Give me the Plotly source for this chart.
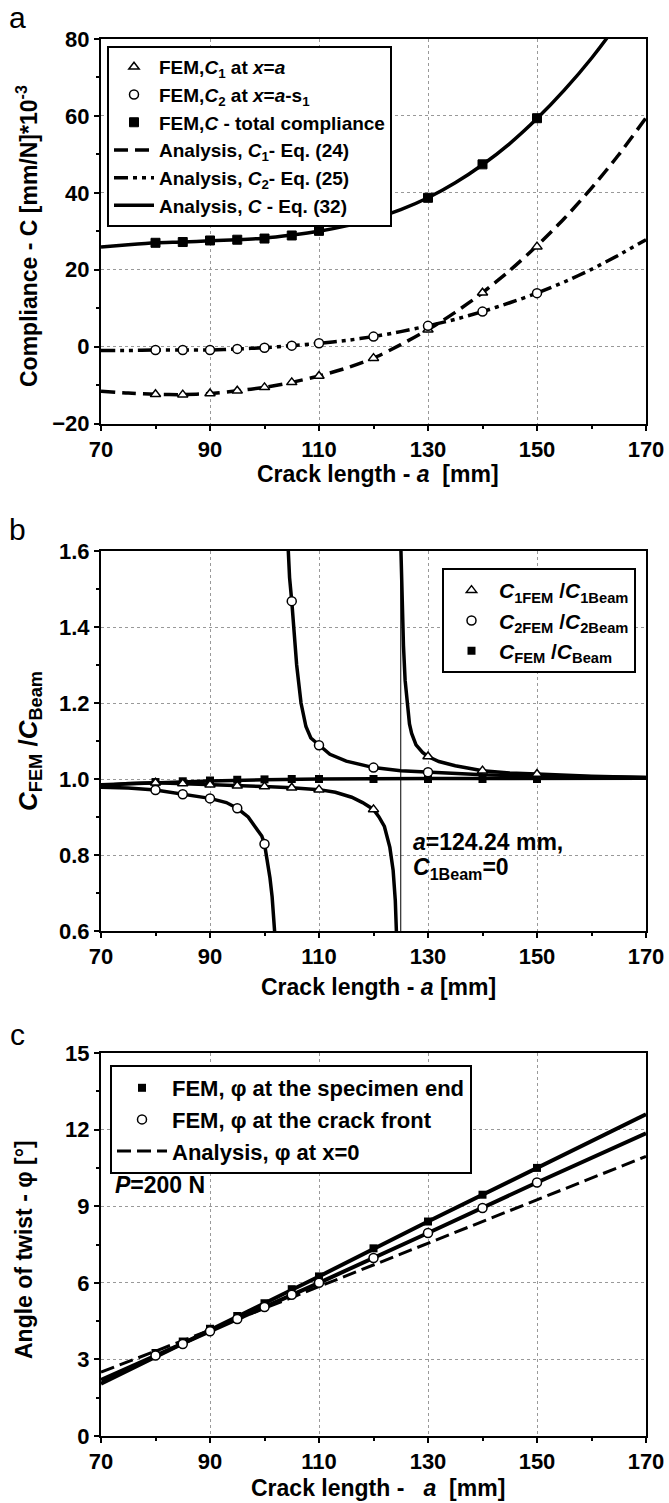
import plotly.graph_objects as go

W, H = 669, 1503
F = "Liberation Sans, Arial, sans-serif"
FR = "Liberation Sans, Arial, sans-serif"

# ---------------- Panel a data ----------------
a_x_fem = [80, 85, 90, 95, 100, 105, 110, 120, 130, 140, 150]
a_c1_fem = [-12.4, -12.5, -12.2, -11.5, -10.6, -9.3, -7.65, -3.0, 4.4, 14.0, 26.0]
a_c2_fem = [-0.9, -0.9, -0.9, -0.6, -0.3, 0.25, 0.85, 2.6, 5.4, 9.1, 13.9]
a_c_fem = [27.0, 27.2, 27.6, 27.8, 28.1, 28.9, 30.1, 33.2, 38.7, 47.4, 59.4]

a_x_line = [70, 75, 80, 85, 90, 95, 100, 105, 110, 115, 120, 125, 130, 135, 140, 145, 150, 155, 160, 165, 170]
a_c1_line = [-11.6, -12.1, -12.4, -12.5, -12.2, -11.5, -10.6, -9.3, -7.65, -5.6, -3.0, 0.5, 4.4, 8.9, 14.0, 19.8, 26.2, 33.3, 41.2, 49.9, 59.5]
a_c2_line = [-1.0, -1.0, -0.9, -0.9, -0.9, -0.6, -0.3, 0.25, 0.85, 1.6, 2.6, 3.9, 5.4, 7.1, 9.1, 11.4, 13.9, 16.8, 20.1, 23.8, 27.8]
a_c_line = [25.9, 26.5, 27.0, 27.2, 27.5, 27.8, 28.2, 29.0, 30.0, 31.4, 33.2, 35.6, 38.7, 42.6, 47.3, 52.8, 59.3, 66.7, 75.0, 84.5, 95.0]

# ---------------- Panel b data ----------------
b_x_fem = [80, 85, 90, 95, 100, 105, 110, 120, 130, 140, 150]
b_r1_fem = [0.990, 0.988, 0.985, 0.982, 0.980, 0.977, 0.972, 0.920, 1.059, 1.022, 1.013]
b_r_fem = [0.992, 0.994, 0.996, 0.998, 0.999, 1.0, 1.0, 1.0, 1.0, 1.0, 1.0]
b_x2_fem = [80, 85, 90, 95, 100, 105, 110, 120, 130]
b_r2_fem = [0.971, 0.960, 0.949, 0.923, 0.829, 1.468, 1.089, 1.030, 1.018]

b_r1_left_x = [70, 75, 80, 85, 90, 95, 100, 105, 110, 113, 116, 118, 120, 121, 122, 123, 123.6, 124.0, 124.25]
b_r1_left_y = [0.982, 0.988, 0.990, 0.988, 0.985, 0.982, 0.980, 0.977, 0.972, 0.965, 0.952, 0.938, 0.920, 0.900, 0.875, 0.820, 0.760, 0.680, 0.580]
b_r1_right_x = [125.0, 125.2, 125.5, 125.8, 126.2, 126.6, 127.0, 127.8, 129, 130, 132, 135, 140, 145, 150, 160, 170]
b_r1_right_y = [1.62, 1.48, 1.35, 1.26, 1.19, 1.145, 1.12, 1.09, 1.07, 1.059, 1.046, 1.035, 1.022, 1.016, 1.013, 1.007, 1.004]
b_r2_left_x = [70, 75, 80, 85, 90, 93, 95, 97, 98.5, 99.5, 100, 100.5, 101, 101.4, 101.7, 101.9]
b_r2_left_y = [0.978, 0.976, 0.971, 0.960, 0.949, 0.938, 0.923, 0.900, 0.872, 0.850, 0.829, 0.790, 0.740, 0.690, 0.640, 0.590]
b_r2_right_x = [104.3, 104.6, 105, 105.3, 105.9, 106.7, 107.6, 108.5, 110, 112, 115, 120, 125, 130, 140, 150, 160, 170]
b_r2_right_y = [1.62, 1.53, 1.468, 1.40, 1.30, 1.20, 1.138, 1.108, 1.089, 1.065, 1.047, 1.030, 1.022, 1.018, 1.011, 1.008, 1.005, 1.004]
b_r_line_x = [70, 80, 90, 100, 110, 130, 150, 170]
b_r_line_y = [0.985, 0.991, 0.995, 0.998, 1.0, 1.001, 1.001, 1.002]
b_asym_x = [125.0, 125.0]
b_asym_y = [0.6, 1.6]

# ---------------- Panel c data ----------------
c_x_fem = [80, 85, 90, 95, 100, 105, 110, 120, 130, 140, 150]
c_end_fem = [3.25, 3.7, 4.2, 4.7, 5.2, 5.75, 6.25, 7.35, 8.4, 9.45, 10.5]
c_front_fem = [3.15, 3.6, 4.1, 4.58, 5.05, 5.53, 6.0, 6.97, 7.95, 8.93, 9.93]
c_x_line = [70, 90, 110, 130, 150, 170]
c_end_line = [2.05, 4.15, 6.25, 8.4, 10.5, 12.6]
c_front_line = [2.2, 4.1, 6.0, 7.95, 9.93, 11.85]
c_ana_line = [2.5, 4.15, 5.85, 7.55, 9.25, 10.95]


def fx(px):
    return px / W


def fy(py):
    return 1 - py / H


fig = go.Figure()

# ---- panel a traces ----
fig.add_trace(go.Scatter(x=a_x_line, y=a_c1_line, mode="lines", line=dict(color="black", width=3.5, dash="14px,7px", shape="spline", smoothing=0.6),
                         name="Analysis, <i>C</i><sub>1</sub>- Eq. (24)", xaxis="x", yaxis="y", legend="legend", legendrank=4))
fig.add_trace(go.Scatter(x=a_x_line, y=a_c2_line, mode="lines", line=dict(color="black", width=3.5, dash="14px,5px,4px,5px,4px,5px", shape="spline", smoothing=0.6),
                         name="Analysis, <i>C</i><sub>2</sub>- Eq. (25)", xaxis="x", yaxis="y", legend="legend", legendrank=5))
fig.add_trace(go.Scatter(x=a_x_line, y=a_c_line, mode="lines", line=dict(color="black", width=3.5, shape="spline", smoothing=0.6),
                         name="Analysis, <i>C</i> - Eq. (32)", xaxis="x", yaxis="y", legend="legend", legendrank=6))
fig.add_trace(go.Scatter(x=a_x_fem, y=a_c1_fem, mode="markers", marker=dict(symbol="triangle-up", size=9, color="white", line=dict(color="black", width=1.5)),
                         name="FEM,<i>C</i><sub>1</sub> at <i>x</i>=<i>a</i>", xaxis="x", yaxis="y", legend="legend", legendrank=1))
fig.add_trace(go.Scatter(x=a_x_fem, y=a_c2_fem, mode="markers", marker=dict(symbol="circle", size=9, color="white", line=dict(color="black", width=1.5)),
                         name="FEM,<i>C</i><sub>2</sub> at <i>x</i>=<i>a</i>-s<sub>1</sub>", xaxis="x", yaxis="y", legend="legend", legendrank=2))
fig.add_trace(go.Scatter(x=a_x_fem, y=a_c_fem, mode="markers", marker=dict(symbol="square", size=9, color="black", line=dict(color="black", width=1)),
                         name="FEM,<i>C</i> - total compliance", xaxis="x", yaxis="y", legend="legend", legendrank=3))

# ---- panel b traces ----
lb = dict(color="black", width=3.5)
fig.add_trace(go.Scatter(x=b_asym_x, y=b_asym_y, mode="lines", line=dict(color="black", width=1), showlegend=False, xaxis="x2", yaxis="y2"))
for xs, ys in [(b_r_line_x, b_r_line_y), (b_r1_left_x, b_r1_left_y), (b_r1_right_x, b_r1_right_y),
               (b_r2_left_x, b_r2_left_y), (b_r2_right_x, b_r2_right_y)]:
    fig.add_trace(go.Scatter(x=xs, y=ys, mode="lines", line=lb, showlegend=False, xaxis="x2", yaxis="y2"))
fig.add_trace(go.Scatter(x=b_x_fem, y=b_r_fem, mode="markers", marker=dict(symbol="square", size=8, color="black"),
                         name="<i>C</i><sub>FEM</sub> /<i>C</i><sub>Beam</sub>", xaxis="x2", yaxis="y2", legend="legend2", legendrank=3))
fig.add_trace(go.Scatter(x=b_x_fem, y=b_r1_fem, mode="markers", marker=dict(symbol="triangle-up", size=9, color="white", line=dict(color="black", width=1.5)),
                         name="<i>C</i><sub>1FEM</sub> /<i>C</i><sub>1Beam</sub>", xaxis="x2", yaxis="y2", legend="legend2", legendrank=1))
fig.add_trace(go.Scatter(x=b_x2_fem, y=b_r2_fem, mode="markers", marker=dict(symbol="circle", size=9, color="white", line=dict(color="black", width=1.5)),
                         name="<i>C</i><sub>2FEM</sub> /<i>C</i><sub>2Beam</sub>", xaxis="x2", yaxis="y2", legend="legend2", legendrank=2))

# ---- panel c traces ----
fig.add_trace(go.Scatter(x=c_x_line, y=c_ana_line, mode="lines", line=dict(color="black", width=3, dash="14px,6px"),
                         name="Analysis, φ at x=0", xaxis="x3", yaxis="y3", legend="legend3", legendrank=3))
fig.add_trace(go.Scatter(x=c_x_line, y=c_end_line, mode="lines", line=dict(color="black", width=4), showlegend=False, xaxis="x3", yaxis="y3"))
fig.add_trace(go.Scatter(x=c_x_line, y=c_front_line, mode="lines", line=dict(color="black", width=4), showlegend=False, xaxis="x3", yaxis="y3"))
fig.add_trace(go.Scatter(x=c_x_fem, y=c_end_fem, mode="markers", marker=dict(symbol="square", size=8, color="black"),
                         name="FEM, φ at the specimen end", xaxis="x3", yaxis="y3", legend="legend3", legendrank=1))
fig.add_trace(go.Scatter(x=c_x_fem, y=c_front_fem, mode="markers", marker=dict(symbol="circle", size=9, color="white", line=dict(color="black", width=1.5)),
                         name="FEM, φ at the crack front", xaxis="x3", yaxis="y3", legend="legend3", legendrank=2))

tickfont = dict(family=F, size=22, color="black", weight="bold")


def xax(top, bottom, anchor):
    return dict(domain=[fx(101), fx(646)], anchor=anchor, range=[70, 170], tick0=70, dtick=20,
                ticks="outside", ticklen=5, tickwidth=1.5, tickcolor="black", tickfont=tickfont,
                showline=True, linecolor="black", linewidth=2, mirror=True, automargin=False,
                showgrid=True, gridcolor="#999999", griddash="dot", gridwidth=1, zeroline=False,
                minor=dict(dtick=10, tick0=70, ticks="outside", ticklen=3, tickcolor="black", showgrid=False))


def yax(top, bottom, anchor, rng, dtick, mdtick, fmt=None):
    d = dict(domain=[fy(bottom), fy(top)], anchor=anchor, range=rng, tick0=rng[0], dtick=dtick,
             ticks="outside", ticklen=5, tickwidth=1.5, tickcolor="black", tickfont=tickfont,
             showline=True, linecolor="black", linewidth=2, mirror=True, automargin=False,
             showgrid=True, gridcolor="#999999", griddash="dot", gridwidth=1, zeroline=False,
             minor=dict(dtick=mdtick, tick0=rng[0], ticks="outside", ticklen=3, tickcolor="black", showgrid=False))
    if fmt:
        d["tickformat"] = fmt
    return d


A = (39, 423.5)
B = (551, 931)
C = (1053, 1436)

legfont = dict(family=F, color="black", weight="bold")

fig.update_layout(
    template="none",
    width=W, height=H, margin=dict(l=0, r=0, t=0, b=0, pad=0, autoexpand=False),
    paper_bgcolor="white", plot_bgcolor="white",
    xaxis=xax(*A, "y"), yaxis=yax(*A, "x", [-20, 80], 20, 10),
    xaxis2=xax(*B, "y2"), yaxis2=yax(*B, "x2", [0.6, 1.6], 0.2, 0.1, ".1f"),
    xaxis3=xax(*C, "y3"), yaxis3=yax(*C, "x3", [0, 15], 3, 1.5),
    legend=dict(x=fx(107), y=fy(46), xanchor="left", yanchor="top", bordercolor="black", borderwidth=2,
                bgcolor="white", font=dict(size=19, **legfont), tracegroupgap=0, itemsizing="trace", itemwidth=40),
    legend2=dict(x=fx(442), y=fy(568), xanchor="left", yanchor="top", bordercolor="black", borderwidth=2,
                 bgcolor="white", font=dict(size=21, **legfont), tracegroupgap=0, itemsizing="trace", itemwidth=45),
    legend3=dict(x=fx(110), y=fy(1065), xanchor="left", yanchor="top", bordercolor="black", borderwidth=2,
                 bgcolor="white", font=dict(size=22, **legfont), tracegroupgap=0, itemsizing="trace", itemwidth=50),
    showlegend=True,
)

ann = []
tf = dict(family=F, size=23, color="black", weight="bold")
# panel labels
for lab, yy in [("a", 18), ("b", 529), ("c", 1034)]:
    ann.append(dict(text=lab, x=fx(17), y=fy(yy), xref="paper", yref="paper", showarrow=False,
                    font=dict(family=FR, size=30, color="black"), xanchor="center", yanchor="middle"))
# x titles
for yy, t in [(474, "Crack length - <i>a</i>  [mm]"), (987, "Crack length - <i>a</i> [mm]"), (1488, "Crack length -   <i>a</i>  [mm]")]:
    ann.append(dict(text=t, x=fx(378), y=fy(yy), xref="paper", yref="paper", showarrow=False, font=tf,
                    xanchor="center", yanchor="middle"))
# y titles
ann.append(dict(text="Compliance - C [mm/N]*10<sup>-3</sup>", x=fx(27), y=fy(236), xref="paper", yref="paper",
                showarrow=False, font=tf, textangle=-90, xanchor="center", yanchor="middle"))
ann.append(dict(text="<i>C</i><sub>FEM</sub> /<i>C</i><sub>Beam</sub>", x=fx(30), y=fy(741), xref="paper", yref="paper",
                showarrow=False, font=dict(family=F, size=26, color="black", weight="bold"), textangle=-90, xanchor="center", yanchor="middle"))
ann.append(dict(text="Angle of twist - φ [°]", x=fx(24), y=fy(1250), xref="paper", yref="paper",
                showarrow=False, font=tf, textangle=-90, xanchor="center", yanchor="middle"))
# panel b note
ann.append(dict(text="<i>a</i>=124.24 mm,", x=fx(411), y=fy(842), xref="paper", yref="paper", showarrow=False,
                font=tf, xanchor="left", yanchor="middle"))
ann.append(dict(text="<i>C</i><sub>1Beam</sub>=0", x=fx(411), y=fy(868), xref="paper", yref="paper", showarrow=False,
                font=tf, xanchor="left", yanchor="middle"))
# panel c note
ann.append(dict(text="<i>P</i>=200 N", x=fx(113), y=fy(1185), xref="paper", yref="paper", showarrow=False,
                font=tf, xanchor="left", yanchor="middle"))

fig.update_layout(annotations=ann)
fig.write_html("out.html", config={"displayModeBar": False},
               post_script="document.body.style.margin='0';document.body.style.overflow='hidden';")
